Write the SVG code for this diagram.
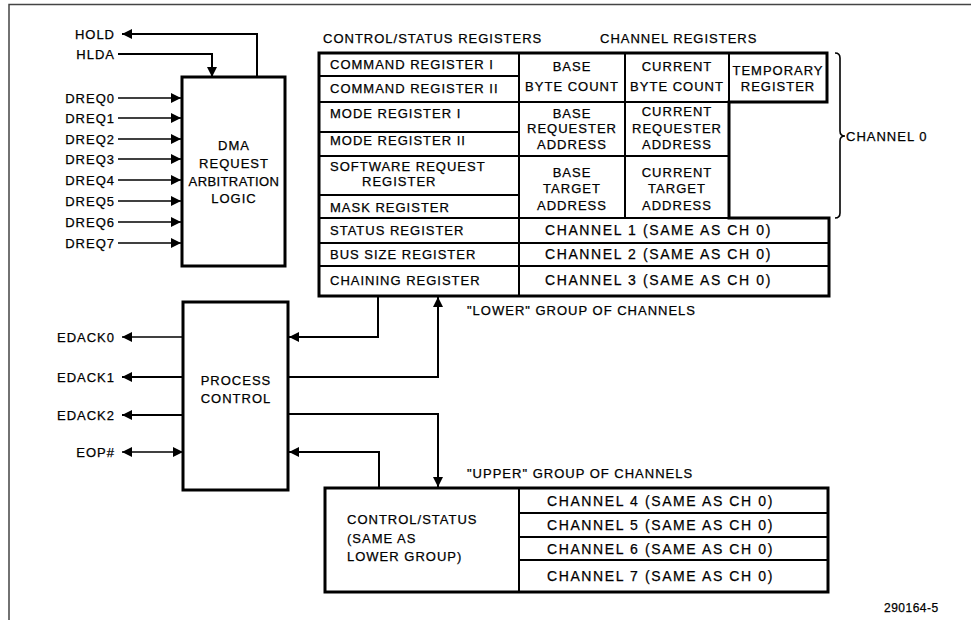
<svg xmlns="http://www.w3.org/2000/svg" width="971" height="627" viewBox="0 0 971 627">
<style>
.t{font-family:"Liberation Sans",Arial,sans-serif;font-size:13px;letter-spacing:1px;fill:#000;stroke:#000;stroke-width:0.25}
.c{text-anchor:middle}
.e{text-anchor:end}
.ch{font-size:14px;letter-spacing:1.6px}
.box{fill:#fff;stroke:#000;stroke-width:3}
.div{stroke:#000;stroke-width:2;fill:none}
.ln{stroke:#000;stroke-width:2;fill:none}
.thin{stroke:#000;stroke-width:1.6;fill:none}
.frame{stroke:#444;stroke-width:1.5;fill:none}
</style>
<defs>
<marker id="ah" viewBox="0 0 10 10" refX="10" refY="5" markerWidth="11" markerHeight="10" markerUnits="userSpaceOnUse" orient="auto-start-reverse">
<path d="M0,0 L10,5 L0,10 z" fill="#000"/>
</marker>
</defs>
<path class="frame" d="M9,620 V4.5 H971"/>
<g id="connectors">
<path class="ln" d="M257,77 V34 H122" marker-end="url(#ah)"/>
<path class="ln" d="M118,54 H212 V77" marker-end="url(#ah)"/>
<path class="thin" d="M118,98 H181" marker-end="url(#ah)"/>
<path class="thin" d="M118,118 H181" marker-end="url(#ah)"/>
<path class="thin" d="M118,139 H181" marker-end="url(#ah)"/>
<path class="thin" d="M118,159 H181" marker-end="url(#ah)"/>
<path class="thin" d="M118,180 H181" marker-end="url(#ah)"/>
<path class="thin" d="M118,201 H181" marker-end="url(#ah)"/>
<path class="thin" d="M118,222 H181" marker-end="url(#ah)"/>
<path class="thin" d="M118,243 H181" marker-end="url(#ah)"/>
<path class="thin" d="M183,337 H122" marker-end="url(#ah)"/>
<path class="ln" d="M183,377 H122" marker-end="url(#ah)"/>
<path class="ln" d="M183,415 H122" marker-end="url(#ah)"/>
<path class="thin" d="M122,452 H183" marker-start="url(#ah)" marker-end="url(#ah)"/>
<path class="ln" d="M378,296 V337 H289" marker-end="url(#ah)"/>
<path class="ln" d="M289,377 H438 V297" marker-end="url(#ah)"/>
<path class="ln" d="M289,414 H438 V487" marker-end="url(#ah)"/>
<path class="ln" d="M379,488 V452 H289" marker-end="url(#ah)"/>
</g>
<g id="signals">
<text class="t e" x="115" y="39">HOLD</text>
<text class="t e" x="115" y="59">HLDA</text>
<text class="t e" x="115" y="103">DREQ0</text>
<text class="t e" x="115" y="123">DREQ1</text>
<text class="t e" x="115" y="144">DREQ2</text>
<text class="t e" x="115" y="164">DREQ3</text>
<text class="t e" x="115" y="185">DREQ4</text>
<text class="t e" x="115" y="206">DREQ5</text>
<text class="t e" x="115" y="227">DREQ6</text>
<text class="t e" x="115" y="248">DREQ7</text>
<text class="t e" x="115" y="342">EDACK0</text>
<text class="t e" x="115" y="382">EDACK1</text>
<text class="t e" x="115" y="420">EDACK2</text>
<text class="t e" x="115" y="457">EOP#</text>
</g>
<g id="dma">
<rect class="box" x="182" y="77" width="103" height="189"/>
<text class="t c" x="234" y="150">DMA</text>
<text class="t c" x="234" y="168">REQUEST</text>
<text class="t c" x="234" y="186" style="letter-spacing:0.4px">ARBITRATION</text>
<text class="t c" x="234" y="203">LOGIC</text>
</g>
<g id="process">
<rect class="box" x="183" y="302" width="105" height="188"/>
<text class="t c" x="236" y="385">PROCESS</text>
<text class="t c" x="236" y="403">CONTROL</text>
</g>
<g id="headers">
<text class="t" x="323" y="43">CONTROL/STATUS REGISTERS</text>
<text class="t" x="600" y="43">CHANNEL REGISTERS</text>
<text class="t" x="467" y="315">"LOWER" GROUP OF CHANNELS</text>
<text class="t" x="467" y="478">"UPPER" GROUP OF CHANNELS</text>
<text class="t" x="846" y="141">CHANNEL 0</text>
<path class="thin" d="M835,53 Q840,53 840,58 V131 Q840,136 845,136 Q840,136 840,141 V213 Q840,218 835,218"/>
<text class="t" x="884" y="612" style="font-size:12px;letter-spacing:0.5px">290164-5</text>
</g>
<g id="lower-group">
<path class="box" d="M319,218 V296 H829 V218 H729 V102 H827 V53 H319 V218"/>
<path class="div" d="M319,76 H519 M319,102 H729 M319,132 H519 M319,156 H729 M319,195 H519 M319,218 H829 M319,243 H829 M319,266 H829 M519,53 V296 M625,53 V218 M729,53 V218"/>
<text class="t" x="330" y="69">COMMAND REGISTER I</text>
<text class="t" x="330" y="93">COMMAND REGISTER II</text>
<text class="t" x="330" y="118">MODE REGISTER I</text>
<text class="t" x="330" y="145">MODE REGISTER II</text>
<text class="t" x="330" y="171">SOFTWARE REQUEST</text>
<text class="t" x="362" y="186">REGISTER</text>
<text class="t" x="330" y="212">MASK REGISTER</text>
<text class="t" x="330" y="235">STATUS REGISTER</text>
<text class="t" x="330" y="259">BUS SIZE REGISTER</text>
<text class="t" x="330" y="285">CHAINING REGISTER</text>
<text class="t c" x="572" y="71">BASE</text>
<text class="t c" x="572" y="91">BYTE COUNT</text>
<text class="t c" x="572" y="118">BASE</text>
<text class="t c" x="572" y="133">REQUESTER</text>
<text class="t c" x="572" y="149">ADDRESS</text>
<text class="t c" x="572" y="177">BASE</text>
<text class="t c" x="572" y="193">TARGET</text>
<text class="t c" x="572" y="210">ADDRESS</text>
<text class="t c" x="677" y="71">CURRENT</text>
<text class="t c" x="677" y="91">BYTE COUNT</text>
<text class="t c" x="677" y="116">CURRENT</text>
<text class="t c" x="677" y="133">REQUESTER</text>
<text class="t c" x="677" y="149">ADDRESS</text>
<text class="t c" x="677" y="177">CURRENT</text>
<text class="t c" x="677" y="193">TARGET</text>
<text class="t c" x="677" y="210">ADDRESS</text>
<text class="t c" x="778" y="75">TEMPORARY</text>
<text class="t c" x="778" y="91">REGISTER</text>
<text class="t ch" x="545" y="235">CHANNEL 1 (SAME AS CH 0)</text>
<text class="t ch" x="545" y="259">CHANNEL 2 (SAME AS CH 0)</text>
<text class="t ch" x="545" y="285">CHANNEL 3 (SAME AS CH 0)</text>
</g>
<g id="upper-group">
<rect class="box" x="325" y="488" width="503" height="104"/>
<path class="div" d="M519,488 V592 M519,513 H828 M519,537 H828 M519,560 H828"/>
<text class="t" x="347" y="524">CONTROL/STATUS</text>
<text class="t" x="347" y="543">(SAME AS</text>
<text class="t" x="347" y="561">LOWER GROUP)</text>
<text class="t ch" x="547" y="506">CHANNEL 4 (SAME AS CH 0)</text>
<text class="t ch" x="547" y="530">CHANNEL 5 (SAME AS CH 0)</text>
<text class="t ch" x="547" y="554">CHANNEL 6 (SAME AS CH 0)</text>
<text class="t ch" x="547" y="581">CHANNEL 7 (SAME AS CH 0)</text>
</g>
</svg>
